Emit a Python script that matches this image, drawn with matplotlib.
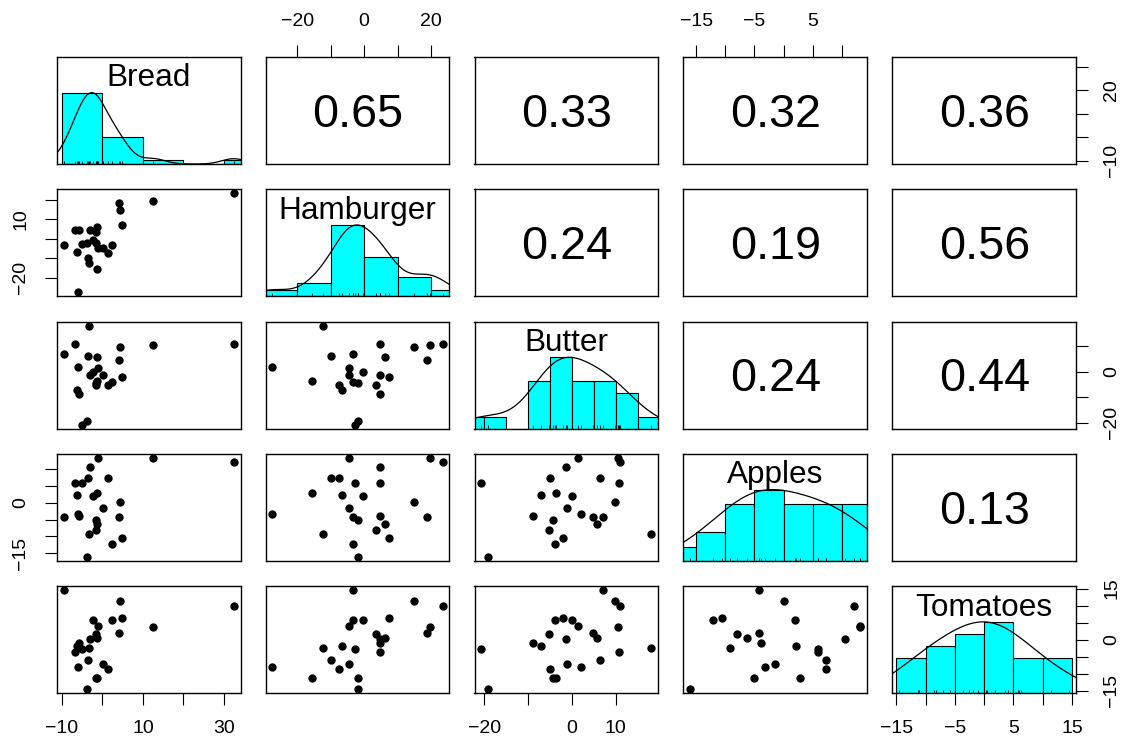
import numpy as np
import matplotlib
matplotlib.use("Agg")
import matplotlib.pyplot as plt

plt.rcParams['font.family'] = ['Liberation Sans', 'DejaVu Sans']

# variable names (diagonal labels)
names = ["Bread", "Hamburger", "Butter", "Apples", "Tomatoes"]

bread = [32.43, 12.51, -9.63, 4.36, 4.20, 4.77, 2.30, 1.48, 0.08, -3.87, -5.10, -5.93,
         -6.34, -6.91, -5.84, -3.37, -3.50, -3.05, -2.22, -1.56, -1.70, -1.40, -1.23, -1.10]
hamburger = [23.5, 19.6, -3.3, 14.8, 18.7, 7.4, -3.3, -7.4, -4.5, -1.9, -2.7, -27.5,
             -6.5, 4.6, 4.6, -12.2, -9.8, 4.6, -0.5, 3.6, -1.9, -15.6, 6.2, -4.5]
butter = [11.03, 10.51, 6.96, 9.85, 4.72, -1.99, -3.97, -5.05, -1.20, -19.1, -20.7, 1.96,
          -7.12, 10.77, -8.83, 18.14, 6.30, -1.33, 0.11, -5.15, -4.23, -3.57, 5.64, 1.43]
apples = [12.07, 13.06, -4.25, 0.10, -4.15, -10.58, -12.07, 7.32, -1.48, -16.02, 5.84, -3.26,
          2.18, 5.84, -3.96, -9.20, 7.32, 10.48, 1.98, -8.01, -5.1, 2.87, -6.23, 13.16]
tomatoes = [10.01, 3.63, 14.53, 11.39, 1.87, 6.28, 5.89, -8.54, -7.06, -14.52, -2.65, -8.14,
            -1.96, -3.63, -0.98, -2.55, -5.89, 0.30, 5.69, 1.77, -11.28, -11.2, 0.49, 4.12]

# correlations printed in the upper panels (row by row)
cor_labels = ["0.65", "0.33", "0.32", "0.36",
              "0.24", "0.19", "0.56",
              "0.24", "0.44",
              "0.13"]

# axis ticks and which of them carry a label
ticks = [[-10, 0, 10, 20, 30], [-20, -10, 0, 10, 20], [-20, -10, 0, 10],
         [-15, -10, -5, 0, 5, 10], [-15, -10, -5, 0, 5, 10, 15]]
xlab_shown = [[-10, 10, 30], [-20, 0, 20], [-20, 0, 10], [-15, -5, 5], [-15, -5, 5, 15]]
ylab_shown = [[-10, 20], [-20, 10], [-20, 0], [-15, 0], [-15, 0, 15]]
bin_step = [10, 10, 5, 5, 5]

data = [np.array(v) for v in [bread, hamburger, butter, apples, tomatoes]]
nv = len(data)

# R style limits: range padded by 4 percent
lims = []
for v in data:
    lo, hi = v.min(), v.max()
    pad = 0.04 * (hi - lo)
    lims.append((lo - pad, hi + pad))


def lab(t, shown):
    if t in shown:
        return str(t).replace("-", "\u2212")
    return ""


W, H = 1127, 745
fig = plt.figure(figsize=(W / 100, H / 100), dpi=100)
x0, pw, sx = 56.7, 183.8, 208.9
y0, ph, sy = 57.0, 107.0, 132.3

k = 0
for i in range(nv):
    for j in range(nv):
        ax = fig.add_axes([(x0 + j * sx) / W, 1 - (y0 + i * sy + ph) / H, pw / W, ph / H])
        ax.set_xlim(lims[j])
        ax.set_ylim(lims[i])
        for s in ax.spines.values():
            s.set_linewidth(1.0)
        ax.set_xticks([])
        ax.set_yticks([])
        tick_kw = dict(direction='out', length=8.6, width=0.8, pad=11, labelsize=14)

        # outer axes, alternating sides like pairs()
        if i == 0 and j % 2 == 1:
            ax.set_xticks(ticks[j])
            ax.set_xticklabels([lab(t, xlab_shown[j]) for t in ticks[j]])
            ax.tick_params(axis='x', bottom=False, top=True, labelbottom=False, labeltop=True, **tick_kw)
        if i == nv - 1 and j % 2 == 0:
            ax.set_xticks(ticks[j])
            ax.set_xticklabels([lab(t, xlab_shown[j]) for t in ticks[j]])
            ax.tick_params(axis='x', **tick_kw)
        if j == 0 and i % 2 == 1:
            ax.set_yticks(ticks[i])
            ax.set_yticklabels([lab(t, ylab_shown[i]) for t in ticks[i]], rotation=90, va='center')
            ax.tick_params(axis='y', **tick_kw)
        if j == nv - 1 and i % 2 == 0:
            ax.set_yticks(ticks[i])
            ax.set_yticklabels([lab(t, ylab_shown[i]) for t in ticks[i]], rotation=90, va='center')
            ax.tick_params(axis='y', left=False, right=True, labelleft=False, labelright=True, **tick_kw)

        if i == j:
            # histogram scaled to 0..1.5 of the panel height
            v = data[i]
            lo, hi = lims[i]
            span = hi - lo
            step = bin_step[i]
            edges = np.arange(np.floor(v.min() / step) * step, np.ceil(v.max() / step) * step + step / 2, step)
            counts, _ = np.histogram(v, edges)
            rel = counts / counts.max()
            ax.bar(edges[:-1], rel * span / 1.5, width=step, bottom=lo, align='edge',
                   color='cyan', edgecolor='black', linewidth=0.8)
            # density line, bw="nrd", adjust=1.2
            q1, q3 = np.percentile(v, [25, 75])
            bw = 1.06 * min(v.std(ddof=1), (q3 - q1) / 1.34) * len(v) ** -0.2 * 1.2
            grid = np.linspace(v.min() - 3 * bw, v.max() + 3 * bw, 512)
            dens = np.exp(-0.5 * ((grid[:, None] - v[None, :]) / bw) ** 2).sum(axis=1)
            dens = dens / dens.max()
            ax.plot(grid, lo + dens * span / 1.5, color='black', linewidth=0.9)
            # rug
            ax.vlines(v, lo, lo + 0.03 * span, color='black', linewidth=0.6)
            ax.text(0.5, 0.80, names[i], transform=ax.transAxes, ha='center', va='center', fontsize=22.7)
        elif i > j:
            ax.scatter(data[j], data[i], s=36, c='black', linewidths=0)
        else:
            ax.text(0.5, 0.46, cor_labels[k], transform=ax.transAxes, ha='center', va='center', fontsize=33.7)
            k += 1

fig.savefig("out.png", dpi=100)
